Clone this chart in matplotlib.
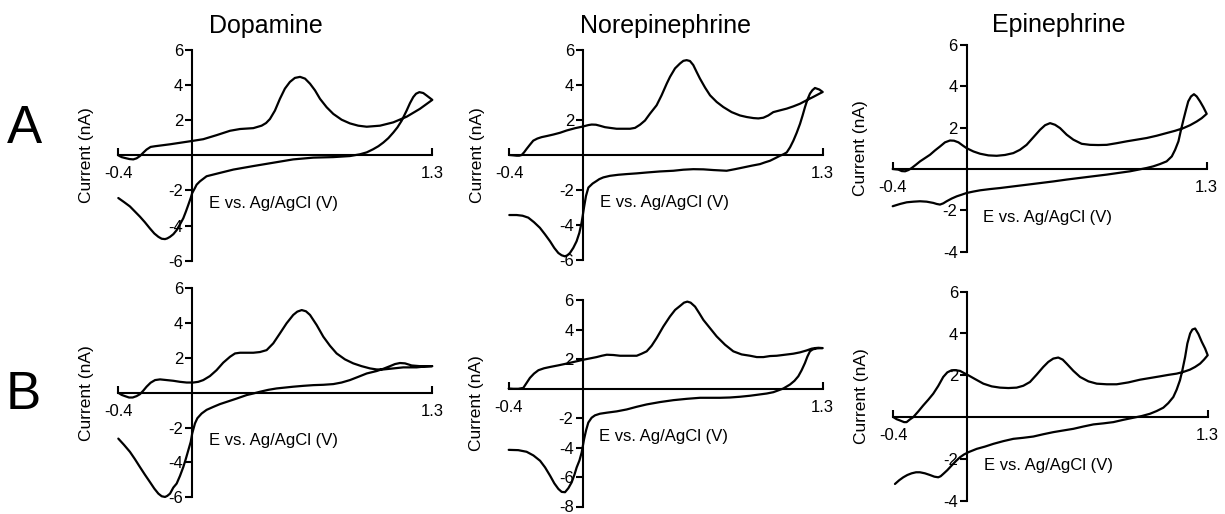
import matplotlib
matplotlib.use("Agg")
import matplotlib.pyplot as plt

plt.rcParams['font.family'] = ['Liberation Sans', 'DejaVu Sans']

# ---------------- data (E in V, I in nA) ----------------
titles = ["Dopamine", "Norepinephrine", "Epinephrine"]
rows = ["A", "B"]
x_ticks = [-0.4, 1.3]
x_ticklabels = ["-0.4", "1.3"]

# Row A - Dopamine
dopA_fwd_E = [-0.4, -0.382, -0.364, -0.34, -0.319, -0.301, -0.283, -0.265, -0.247, -0.225, -0.201, -0.12, 0.0, 0.06, 0.132, 0.205, 0.259, 0.331, 0.376, 0.4, 0.421, 0.448, 0.475, 0.502, 0.529, 0.556, 0.584, 0.611, 0.638, 0.665, 0.692, 0.728, 0.764, 0.809, 0.854, 0.899, 0.945, 1.017, 1.089, 1.161, 1.233, 1.3]
dopA_fwd_I = [0.0, -0.10, -0.15, -0.21, -0.23, -0.17, -0.04, 0.15, 0.33, 0.48, 0.52, 0.63, 0.82, 0.92, 1.15, 1.40, 1.50, 1.55, 1.69, 1.84, 2.07, 2.55, 3.22, 3.80, 4.18, 4.41, 4.47, 4.37, 4.08, 3.70, 3.22, 2.74, 2.36, 2.03, 1.82, 1.69, 1.63, 1.69, 1.88, 2.20, 2.65, 3.16]
dopA_rev_E = [1.3, 1.269, 1.251, 1.230, 1.212, 1.197, 1.179, 1.161, 1.134, 1.111, 1.089, 1.062, 1.035, 1.008, 0.98, 0.945, 0.908, 0.854, 0.764, 0.656, 0.547, 0.439, 0.331, 0.223, 0.15, 0.078, 0.042, 0.024, 0.015, 0.0, -0.008, -0.021, -0.034, -0.048, -0.066, -0.084, -0.102, -0.12, -0.135, -0.147, -0.165, -0.183, -0.205, -0.229, -0.256, -0.283, -0.31, -0.337, -0.369, -0.4]
dopA_rev_I = [3.16, 3.41, 3.55, 3.60, 3.51, 3.32, 2.97, 2.55, 1.97, 1.59, 1.30, 0.98, 0.73, 0.52, 0.35, 0.17, 0.06, -0.04, -0.10, -0.13, -0.23, -0.42, -0.61, -0.81, -1.0, -1.19, -1.48, -1.67, -1.86, -2.15, -2.43, -2.82, -3.20, -3.58, -3.93, -4.26, -4.49, -4.64, -4.73, -4.77, -4.75, -4.64, -4.45, -4.16, -3.81, -3.49, -3.20, -2.91, -2.66, -2.43]

# Row A - Norepinephrine
neA_fwd_E = [-0.4, -0.378, -0.36, -0.346, -0.333, -0.320, -0.306, -0.288, -0.27, -0.248, -0.225, -0.194, -0.161, -0.125, -0.089, -0.044, 0.0, 0.029, 0.047, 0.070, 0.092, 0.119, 0.146, 0.182, 0.219, 0.255, 0.282, 0.309, 0.336, 0.363, 0.399, 0.426, 0.454, 0.472, 0.499, 0.526, 0.544, 0.562, 0.580, 0.598, 0.616, 0.634, 0.662, 0.689, 0.725, 0.761, 0.806, 0.851, 0.888, 0.924, 0.951, 0.978, 1.005, 1.032, 1.068, 1.105, 1.141, 1.177, 1.213, 1.249, 1.276, 1.3]
neA_fwd_I = [0.0, -0.02, -0.04, -0.04, 0.0, 0.15, 0.35, 0.59, 0.82, 0.94, 1.02, 1.09, 1.17, 1.27, 1.40, 1.53, 1.63, 1.71, 1.74, 1.73, 1.67, 1.59, 1.55, 1.50, 1.50, 1.50, 1.55, 1.73, 1.97, 2.36, 2.84, 3.41, 4.08, 4.47, 4.95, 5.23, 5.38, 5.42, 5.37, 5.14, 4.75, 4.37, 3.85, 3.41, 3.03, 2.74, 2.45, 2.26, 2.17, 2.11, 2.09, 2.13, 2.26, 2.45, 2.55, 2.65, 2.78, 2.93, 3.13, 3.32, 3.47, 3.60]
neA_rev_E = [1.3, 1.282, 1.258, 1.244, 1.231, 1.217, 1.204, 1.191, 1.177, 1.159, 1.141, 1.123, 1.105, 1.087, 1.069, 1.041, 1.014, 0.987, 0.96, 0.915, 0.87, 0.824, 0.779, 0.743, 0.707, 0.653, 0.598, 0.544, 0.49, 0.417, 0.345, 0.291, 0.237, 0.191, 0.146, 0.11, 0.088, 0.074, 0.052, 0.029, 0.016, 0.005, -0.002, -0.008, -0.02, -0.035, -0.053, -0.071, -0.085, -0.098, -0.116, -0.134, -0.156, -0.179, -0.206, -0.234, -0.266, -0.297, -0.328, -0.36, -0.4]
neA_rev_I = [3.60, 3.74, 3.83, 3.70, 3.51, 3.16, 2.74, 2.26, 1.78, 1.27, 0.82, 0.44, 0.15, 0.04, -0.04, -0.19, -0.33, -0.42, -0.52, -0.61, -0.71, -0.81, -0.90, -0.88, -0.86, -0.82, -0.81, -0.84, -0.90, -0.94, -1.00, -1.05, -1.09, -1.13, -1.19, -1.28, -1.38, -1.48, -1.63, -1.86, -2.34, -3.01, -3.49, -3.87, -4.45, -4.93, -5.31, -5.60, -5.73, -5.79, -5.73, -5.60, -5.31, -4.93, -4.54, -4.16, -3.84, -3.58, -3.47, -3.43, -3.43]

# Row A - Epinephrine
epA_fwd_E = [-0.4, -0.369, -0.351, -0.333, -0.315, -0.297, -0.274, -0.252, -0.225, -0.198, -0.171, -0.144, -0.117, -0.09, -0.068, -0.044, -0.021, 0.0, 0.037, 0.073, 0.118, 0.163, 0.208, 0.253, 0.289, 0.325, 0.362, 0.398, 0.425, 0.452, 0.479, 0.506, 0.542, 0.578, 0.623, 0.668, 0.713, 0.759, 0.813, 0.867, 0.921, 0.975, 1.029, 1.083, 1.129, 1.174, 1.21, 1.246, 1.273, 1.3]
epA_fwd_I = [0.0, -0.03, -0.10, -0.11, -0.05, 0.05, 0.21, 0.37, 0.53, 0.69, 0.90, 1.09, 1.29, 1.38, 1.37, 1.29, 1.14, 1.01, 0.85, 0.74, 0.66, 0.64, 0.68, 0.77, 0.93, 1.17, 1.54, 1.90, 2.12, 2.22, 2.14, 1.98, 1.66, 1.42, 1.22, 1.17, 1.16, 1.17, 1.25, 1.34, 1.42, 1.50, 1.61, 1.74, 1.85, 1.98, 2.12, 2.30, 2.46, 2.67]
epA_rev_E = [1.3, 1.282, 1.264, 1.246, 1.231, 1.215, 1.2, 1.188, 1.174, 1.159, 1.147, 1.129, 1.111, 1.083, 1.047, 1.011, 0.975, 0.93, 0.885, 0.822, 0.759, 0.686, 0.614, 0.542, 0.47, 0.398, 0.326, 0.253, 0.181, 0.127, 0.073, 0.037, 0.0, -0.026, -0.053, -0.081, -0.108, -0.126, -0.144, -0.162, -0.18, -0.216, -0.252, -0.288, -0.324, -0.36, -0.4]
epA_rev_I = [2.67, 2.99, 3.27, 3.51, 3.62, 3.51, 3.27, 2.87, 2.38, 1.82, 1.34, 0.93, 0.61, 0.37, 0.24, 0.13, 0.05, -0.03, -0.11, -0.19, -0.27, -0.35, -0.43, -0.51, -0.60, -0.68, -0.76, -0.84, -0.92, -0.97, -1.03, -1.09, -1.16, -1.24, -1.32, -1.43, -1.56, -1.66, -1.72, -1.69, -1.64, -1.58, -1.56, -1.58, -1.61, -1.69, -1.80]

# Row B - Dopamine
dopB_fwd_E = [-0.4, -0.382, -0.364, -0.342, -0.322, -0.301, -0.283, -0.265, -0.247, -0.225, -0.201, -0.174, -0.138, -0.102, -0.066, -0.03, 0.006, 0.033, 0.06, 0.096, 0.132, 0.168, 0.205, 0.232, 0.259, 0.295, 0.331, 0.367, 0.403, 0.439, 0.475, 0.511, 0.547, 0.569, 0.593, 0.616, 0.638, 0.674, 0.71, 0.746, 0.782, 0.827, 0.872, 0.917, 0.963, 0.999, 1.035, 1.089, 1.143, 1.179, 1.215, 1.251, 1.3]
dopB_fwd_I = [0.0, -0.12, -0.19, -0.27, -0.27, -0.19, -0.08, 0.12, 0.35, 0.58, 0.73, 0.77, 0.73, 0.69, 0.63, 0.59, 0.59, 0.63, 0.73, 0.96, 1.30, 1.73, 2.07, 2.26, 2.30, 2.30, 2.30, 2.34, 2.45, 2.84, 3.41, 3.99, 4.47, 4.66, 4.75, 4.68, 4.47, 3.89, 3.22, 2.70, 2.26, 1.92, 1.69, 1.53, 1.40, 1.34, 1.34, 1.40, 1.46, 1.46, 1.46, 1.50, 1.53]
dopB_rev_E = [1.3, 1.233, 1.188, 1.152, 1.125, 1.098, 1.071, 1.035, 0.999, 0.945, 0.9, 0.854, 0.809, 0.764, 0.71, 0.656, 0.602, 0.547, 0.457, 0.412, 0.367, 0.331, 0.295, 0.241, 0.187, 0.15, 0.114, 0.078, 0.051, 0.028, 0.015, 0.0, -0.008, -0.021, -0.034, -0.048, -0.066, -0.084, -0.102, -0.12, -0.135, -0.147, -0.165, -0.183, -0.205, -0.229, -0.256, -0.283, -0.31, -0.337, -0.369, -0.4]
dopB_rev_I = [1.53, 1.53, 1.57, 1.69, 1.71, 1.65, 1.53, 1.38, 1.25, 1.11, 0.92, 0.73, 0.59, 0.50, 0.46, 0.44, 0.40, 0.35, 0.25, 0.17, 0.06, -0.04, -0.13, -0.33, -0.52, -0.65, -0.81, -0.98, -1.19, -1.46, -1.76, -2.34, -2.82, -3.30, -3.78, -4.26, -4.77, -5.21, -5.44, -5.79, -5.92, -5.98, -5.94, -5.79, -5.50, -5.12, -4.70, -4.26, -3.81, -3.39, -2.99, -2.63]

# Row B - Norepinephrine
neB_fwd_E = [-0.4, -0.375, -0.348, -0.321, -0.303, -0.285, -0.263, -0.239, -0.209, -0.176, -0.131, -0.086, -0.041, 0.004, 0.04, 0.076, 0.104, 0.131, 0.167, 0.203, 0.248, 0.293, 0.32, 0.347, 0.374, 0.401, 0.437, 0.473, 0.501, 0.528, 0.549, 0.567, 0.585, 0.609, 0.632, 0.654, 0.69, 0.726, 0.771, 0.816, 0.861, 0.907, 0.943, 0.979, 1.015, 1.051, 1.096, 1.141, 1.177, 1.213, 1.24, 1.259, 1.277, 1.3]
neB_fwd_I = [0.0, -0.02, -0.02, 0.04, 0.38, 0.72, 1.01, 1.24, 1.37, 1.46, 1.57, 1.69, 1.82, 1.95, 2.04, 2.13, 2.22, 2.29, 2.27, 2.22, 2.22, 2.22, 2.36, 2.52, 2.90, 3.42, 4.20, 4.88, 5.33, 5.60, 5.82, 5.89, 5.82, 5.55, 5.10, 4.65, 4.09, 3.53, 2.97, 2.52, 2.31, 2.22, 2.13, 2.13, 2.20, 2.22, 2.29, 2.36, 2.45, 2.58, 2.70, 2.74, 2.76, 2.74]
neB_rev_E = [1.3, 1.268, 1.246, 1.231, 1.217, 1.204, 1.186, 1.168, 1.147, 1.123, 1.087, 1.033, 0.997, 0.961, 0.907, 0.852, 0.798, 0.744, 0.69, 0.636, 0.564, 0.492, 0.419, 0.347, 0.293, 0.239, 0.185, 0.131, 0.094, 0.067, 0.049, 0.031, 0.019, 0.008, -0.005, -0.017, -0.032, -0.044, -0.059, -0.077, -0.095, -0.113, -0.131, -0.153, -0.176, -0.203, -0.23, -0.266, -0.303, -0.348, -0.4]
neB_rev_I = [2.74, 2.72, 2.65, 2.52, 2.16, 1.73, 1.24, 0.83, 0.52, 0.27, 0.0, -0.25, -0.34, -0.40, -0.49, -0.56, -0.61, -0.63, -0.63, -0.63, -0.70, -0.79, -0.92, -1.08, -1.24, -1.42, -1.55, -1.64, -1.71, -1.82, -1.98, -2.31, -2.83, -3.44, -4.34, -4.88, -5.35, -5.84, -6.36, -6.76, -7.03, -7.01, -6.81, -6.43, -5.91, -5.35, -4.90, -4.54, -4.29, -4.18, -4.16]

# Row B - Epinephrine
epB_fwd_E = [-0.4, -0.382, -0.364, -0.342, -0.328, -0.31, -0.292, -0.265, -0.238, -0.211, -0.184, -0.157, -0.13, -0.108, -0.085, -0.061, -0.039, -0.018, 0.006, 0.042, 0.087, 0.132, 0.177, 0.222, 0.267, 0.303, 0.339, 0.375, 0.411, 0.438, 0.465, 0.492, 0.516, 0.537, 0.574, 0.61, 0.655, 0.7, 0.754, 0.808, 0.871, 0.934, 0.988, 1.042, 1.087, 1.132, 1.168, 1.204, 1.232, 1.259, 1.28, 1.3]
epB_fwd_I = [0.0, -0.10, -0.16, -0.24, -0.24, -0.11, 0.0, 0.27, 0.56, 0.83, 1.12, 1.49, 1.92, 2.14, 2.24, 2.24, 2.21, 2.11, 2.0, 1.82, 1.6, 1.47, 1.41, 1.39, 1.41, 1.50, 1.68, 2.03, 2.40, 2.64, 2.80, 2.85, 2.75, 2.56, 2.21, 1.92, 1.71, 1.60, 1.57, 1.57, 1.66, 1.79, 1.87, 1.95, 2.02, 2.08, 2.16, 2.27, 2.40, 2.56, 2.75, 2.96]
epB_rev_E = [1.3, 1.286, 1.268, 1.25, 1.232, 1.217, 1.205, 1.19, 1.178, 1.163, 1.15, 1.132, 1.114, 1.087, 1.06, 1.024, 0.988, 0.943, 0.898, 0.844, 0.79, 0.736, 0.682, 0.628, 0.574, 0.519, 0.465, 0.411, 0.357, 0.303, 0.249, 0.195, 0.141, 0.096, 0.051, 0.006, -0.018, -0.039, -0.061, -0.085, -0.108, -0.13, -0.144, -0.157, -0.178, -0.202, -0.229, -0.256, -0.277, -0.301, -0.324, -0.346, -0.368, -0.391]
epB_rev_I = [2.96, 3.28, 3.60, 3.97, 4.24, 4.19, 4.0, 3.52, 2.88, 2.24, 1.76, 1.31, 0.96, 0.67, 0.45, 0.29, 0.16, 0.05, -0.03, -0.13, -0.24, -0.30, -0.35, -0.45, -0.56, -0.64, -0.72, -0.82, -0.93, -0.99, -1.04, -1.15, -1.28, -1.41, -1.52, -1.68, -1.79, -1.92, -2.10, -2.32, -2.54, -2.72, -2.83, -2.88, -2.85, -2.77, -2.69, -2.64, -2.64, -2.69, -2.77, -2.88, -3.02, -3.2]

# y-ranges (nA) for each panel
y_ranges = [[(-6, 6), (-6, 6), (-4, 6)],
            [(-6, 6), (-8, 6), (-4, 6)]]

panels = [[(dopA_fwd_E, dopA_fwd_I, dopA_rev_E, dopA_rev_I),
           (neA_fwd_E, neA_fwd_I, neA_rev_E, neA_rev_I),
           (epA_fwd_E, epA_fwd_I, epA_rev_E, epA_rev_I)],
          [(dopB_fwd_E, dopB_fwd_I, dopB_rev_E, dopB_rev_I),
           (neB_fwd_E, neB_fwd_I, neB_rev_E, neB_rev_I),
           (epB_fwd_E, epB_fwd_I, epB_rev_E, epB_rev_I)]]

# ---------------- layout (pixels) ----------------
W, H = 1225, 514
fig = plt.figure(figsize=(W / 100, H / 100), dpi=100)

# (left, right, top, bottom) in pixels
boxes = [[(118.3, 432.3, 50.0, 260.7), (509.3, 822.7, 50.0, 260.0), (892.7, 1206.7, 45.0, 251.7)],
         [(118.3, 432.3, 288.3, 497.3), (508.7, 822.7, 300.0, 506.5), (893.3, 1207.7, 291.7, 500.7)]]

title_pos = [(265.5, 33), (665.7, 33), (1059, 32)]
row_pos = [(24.5, 143), (23, 409)]

LW = 1.6
for r in range(2):
    for c in range(3):
        l, rr, t, b = boxes[r][c]
        ax = fig.add_axes([l / W, 1 - b / H, (rr - l) / W, (b - t) / H])
        ax.patch.set_alpha(0)
        fE, fI, rE, rI = panels[r][c]
        ax.plot(list(fE) + list(rE), list(fI) + list(rI), color='black',
                lw=LW, solid_joinstyle='round', solid_capstyle='round', clip_on=False)
        ymin, ymax = y_ranges[r][c]
        ax.set_xlim(-0.4, 1.3)
        ax.set_ylim(ymin, ymax)
        for s in ['top', 'right']:
            ax.spines[s].set_visible(False)
        ax.spines['left'].set_position(('data', 0))
        ax.spines['bottom'].set_position(('data', 0))
        for s in ['left', 'bottom']:
            ax.spines[s].set_linewidth(1.5)
        yt = [v for v in range(ymin, ymax + 1, 2) if v != 0]
        ax.set_yticks(yt)
        ax.set_yticklabels([str(v) for v in yt])
        ax.set_xticks(x_ticks)
        ax.set_xticklabels(x_ticklabels)
        ax.tick_params(axis='y', direction='out', length=5, width=1.5, pad=1.5, labelsize=12)
        ax.tick_params(axis='x', direction='in', length=5, width=1.5, pad=8, labelsize=12)
        ax.annotate('E vs. Ag/AgCl (V)', xy=(0.09, 0), xycoords='data',
                    xytext=(0, -48), textcoords='offset pixels',
                    ha='left', va='center', fontsize=12)
        fig.text((l - 32) / W, 1 - ((t + b) / 2) / H, 'Current (nA)', rotation=90,
                 ha='center', va='center', fontsize=12.5)

for c in range(3):
    x, y = title_pos[c]
    fig.text(x / W, 1 - y / H, titles[c], ha='center', va='baseline', fontsize=18)
for r in range(2):
    x, y = row_pos[r]
    fig.text(x / W, 1 - y / H, rows[r], ha='center', va='baseline', fontsize=38)

fig.savefig('out.png', dpi=100, facecolor='white')
